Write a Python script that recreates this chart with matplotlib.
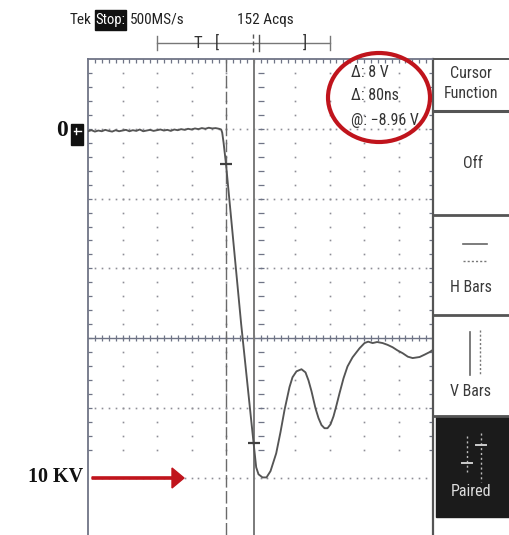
import numpy as np
import matplotlib
matplotlib.use("Agg")
import matplotlib.pyplot as plt
from matplotlib import font_manager as fm
from matplotlib.patches import Ellipse, Rectangle, FancyArrow
from matplotlib.lines import Line2D
from matplotlib.collections import LineCollection

# ---------------- acquisition settings ----------------
T_DIV = 100.0          # ns per division
V_DIV = 2.0            # V per division
V_CENTER = -5.95       # level of the centre graticule line
T_LEFT, T_RIGHT = -500.0, 500.0
V_TOP = V_CENTER + 4 * V_DIV
V_BOTTOM = V_CENTER - 2.82 * V_DIV

# ---------------- waveform (ns, V) ----------------
baseline_t = np.arange(-500, -115, 10)
baseline_v = [-0.02, 0.01, -0.03, 0.00, -0.02, 0.02, -0.01, -0.03, 0.01, -0.02,
              0.00, 0.02, -0.02, 0.01, -0.01, 0.03, -0.02, 0.00, 0.02, -0.01,
              0.01, 0.03, 0.00, 0.02, -0.01, 0.03, 0.01, 0.04, 0.02, 0.05,
              0.03, 0.06, 0.04, 0.07, 0.05, 0.08, 0.06, 0.07, 0.05]
edge_t = [-114, -111, -107, -100, -56, -20, -12.5, -5.8, 5.8, 17.4, 29, 45.5,
          58, 69.6, 84.1, 92.8, 104.3, 118.8, 130.4, 139.1, 147.8, 159.4, 168.1,
          176.8, 185.5, 194.2, 202.9, 211.6, 220.3, 229, 240.6, 252.2, 266.7,
          287, 301.5, 312, 325, 338, 354, 368, 383, 397, 412, 427, 441, 461,
          476, 490, 499]
edge_v = [0.03, -0.06, -0.35, -0.96, -5.55, -8.96, -9.65, -9.85, -9.94, -9.94,
          -9.76, -9.25, -8.64, -8.01, -7.35, -7.07, -6.90, -6.84, -6.93, -7.16,
          -7.47, -7.96, -8.24, -8.44, -8.53, -8.53, -8.42, -8.19, -7.87, -7.53,
          -7.10, -6.76, -6.50, -6.24, -6.09, -6.05, -6.09, -6.06, -6.09, -6.14,
          -6.21, -6.30, -6.38, -6.48, -6.52, -6.49, -6.42, -6.35, -6.29]

cursor_t = [-100, -20]
cursor_v = [-0.96, -8.96]

readout_lines = ["Δ: 8 V", "Δ: 80ns", "@: \u22128.96 V"]
header_rate = "500MS/s"
header_acqs = "152 Acqs"
menu_title = ["Cursor", "Function"]
menu_items = ["Off", "H Bars", "V Bars", "Paired"]
ground_label = "0"
level_label = "10 KV"

# ---------------- fonts ----------------
def narrow_font():
    wanted = ["Liberation Sans Narrow", "DejaVu Sans Condensed",
              "Roboto Condensed", "Open Sans Condensed"]
    for name in wanted:
        for f in fm.fontManager.ttflist:
            if f.name == name and f.style == "normal" and f.weight in (400, "normal", "regular"):
                return fm.FontProperties(fname=f.fname), 1.0
    for f in fm.fontManager.ttflist:
        if f.name == "DejaVu Sans" and f.stretch in ("condensed", "semi-condensed") \
                and f.style == "normal" and f.weight in (400, "normal"):
            return fm.FontProperties(fname=f.fname), 0.9
    return fm.FontProperties(family="DejaVu Sans"), 0.78

NARROW, NSCALE = narrow_font()
SERIF = fm.FontProperties(family="Liberation Serif", weight="bold")

def nfont(size):
    p = NARROW.copy()
    p.set_size(size * NSCALE)
    return p

# ---------------- figure ----------------
W, H = 510, 535
fig = plt.figure(figsize=(W / 100, H / 100), dpi=100)
fig.patch.set_facecolor("white")

def fx(x):
    return x / W

def fy(y):
    return 1 - y / H

ax = fig.add_axes([fx(88), 0, fx(433) - fx(88), fy(59)])
ax.set_xlim(T_LEFT, T_RIGHT)
ax.set_ylim(V_BOTTOM, V_TOP)
ax.axis("off")

GRID = "#8e8e96"
AXC = "#6f7486"
px_v = (V_TOP - V_BOTTOM) / (535 - 59)     # volts per pixel
px_t = (T_RIGHT - T_LEFT) / (433 - 88)     # ns per pixel

minor_v = V_CENTER + 0.4 * np.arange(-8, 21)
minor_v = minor_v[(minor_v > V_BOTTOM) & (minor_v < V_TOP)]
minor_t = np.arange(T_LEFT + 20, T_RIGHT, 20)

# dotted graticule
for t in np.arange(T_LEFT + T_DIV, T_RIGHT, T_DIV):
    if abs(t) < 1e-6:
        continue
    ax.plot(np.full(len(minor_v), t), minor_v, ls="none", marker="s", ms=1.2,
            mew=0, color=GRID)
for k in (-2, -1, 1, 2, 3):
    lvl = V_CENTER + k * V_DIV
    ax.plot(minor_t, np.full(len(minor_t), lvl), ls="none", marker="s", ms=1.2,
            mew=0, color=GRID)

segs = []
# centre horizontal axis with ticks
ax.axhline(V_CENTER, color=AXC, lw=1.0)
for t in minor_t:
    segs.append([(t, V_CENTER - 3 * px_v), (t, V_CENTER + 3 * px_v)])
# centre vertical axis ticks
for v in minor_v:
    segs.append([(-3 * px_t, v), (3 * px_t, v)])
# border ticks
for v in minor_v:
    segs.append([(T_LEFT, v), (T_LEFT + 4 * px_t, v)])
    segs.append([(T_RIGHT, v), (T_RIGHT - 4 * px_t, v)])
for t in minor_t:
    segs.append([(t, V_TOP), (t, V_TOP - 4 * px_v)])
ax.add_collection(LineCollection(segs, colors=AXC, linewidths=0.9))

# borders
ax.plot([T_LEFT, T_LEFT], [V_BOTTOM, V_TOP], color=AXC, lw=1.3, clip_on=False)
ax.plot([T_RIGHT, T_RIGHT], [V_BOTTOM, V_TOP], color="#555", lw=1.6, clip_on=False)
ax.plot([T_LEFT, T_RIGHT], [V_TOP, V_TOP], color=AXC, lw=1.3, clip_on=False)

# paired cursors
ax.axvline(cursor_t[0], color="#6a6a6a", lw=1.0, ls=(0, (9, 2.5)))
ax.axvline(cursor_t[1], color="#7a7a7a", lw=1.4)

# waveform
t_all = np.concatenate([baseline_t, edge_t])
v_all = np.concatenate([baseline_v, edge_v])
ax.plot(t_all, v_all, color="#555555", lw=1.35, solid_joinstyle="round")
ax.plot(cursor_t, cursor_v, ls="none", marker="_", ms=9, mew=1.6, color="#404040")

# ---------------- ground marker and level labels ----------------
fig.add_artist(Rectangle((fx(71), fy(145)), fx(83) - fx(71), fy(124) - fy(145),
                         transform=fig.transFigure, color="#111"))
fig.add_artist(Line2D([fx(74), fx(81)], [fy(131), fy(131)], color="white", lw=1.0,
                      transform=fig.transFigure))
fig.add_artist(Line2D([fx(76), fx(76)], [fy(128), fy(134)], color="white", lw=1.0,
                      transform=fig.transFigure))
fig.text(fx(62), fy(131), ground_label, fontproperties=SERIF, fontsize=17,
         ha="center", va="center", color="#111")
fig.text(fx(83), fy(477), level_label, fontproperties=SERIF, fontsize=14.5,
         ha="right", va="center", color="#111")
fig.add_artist(FancyArrow(fx(92), fy(478), fx(184) - fx(92), 0,
                          width=2.2 / H, head_width=20 / H, head_length=12 / W,
                          length_includes_head=True, color="#c0141c",
                          transform=fig.transFigure))

# ---------------- readout with red circle ----------------
fig.add_artist(Ellipse((fx(379), fy(97.5)), 102 / W, 89 / H, fill=False,
                       edgecolor="#c0141c", lw=3.0, transform=fig.transFigure))
for i, line in enumerate(readout_lines):
    fig.text(fx(351), fy(72 + 24 * i), line, fontproperties=nfont(11.5),
             ha="left", va="center", color="#333")

# ---------------- header ----------------
hb = nfont(11)
hb.set_weight("bold")
fig.text(fx(70), fy(20), "Tek", fontproperties=hb, ha="left", va="center", color="#222")
fig.add_artist(Rectangle((fx(95), fy(30)), fx(126) - fx(95), fy(10) - fy(30),
                         transform=fig.transFigure, color="#111"))
fig.text(fx(110.5), fy(20), "Stop:", fontproperties=nfont(10.5), ha="center",
         va="center", color="white")
fig.text(fx(130), fy(20), header_rate, fontproperties=nfont(11), ha="left",
         va="center", color="#222")
fig.text(fx(237), fy(20), header_acqs, fontproperties=nfont(11), ha="left",
         va="center", color="#222")

# record position bar
bar_c = "#777"
fig.add_artist(Line2D([fx(157), fx(330)], [fy(43), fy(43)], color=bar_c, lw=1.0,
                      transform=fig.transFigure))
for xb in (157, 330):
    fig.add_artist(Line2D([fx(xb), fx(xb)], [fy(36), fy(50)], color=bar_c, lw=1.0,
                          transform=fig.transFigure))
fig.add_artist(Line2D([fx(253), fx(253)], [fy(34), fy(52)], color="#555", lw=1.0,
                      ls=(0, (3, 2)), transform=fig.transFigure))
fig.add_artist(Line2D([fx(259), fx(259)], [fy(35), fy(51)], color="#555", lw=1.0,
                      transform=fig.transFigure))
for xb, s in ((198, "T"), (217, "["), (305, "]")):
    fig.text(fx(xb), fy(43), s, fontproperties=nfont(12), ha="center", va="center",
             color="#333")

# ---------------- side menu ----------------
mc = "#555"
for yl, lw in ((59, 1.4), (111, 2.2), (215, 2.0), (315, 2.0), (416, 2.0)):
    fig.add_artist(Line2D([fx(434), fx(510)], [fy(yl), fy(yl)], color=mc, lw=lw,
                          transform=fig.transFigure))
fig.text(fx(471), fy(73), menu_title[0], fontproperties=nfont(11.5), ha="center",
         va="center", color="#3a3a3a")
fig.text(fx(471), fy(93), menu_title[1], fontproperties=nfont(11.5), ha="center",
         va="center", color="#3a3a3a")
fig.text(fx(473), fy(163), menu_items[0], fontproperties=nfont(11.5), ha="center",
         va="center", color="#3a3a3a")

# H Bars
fig.add_artist(Line2D([fx(463), fx(487)], [fy(244), fy(244)], color="#666", lw=1.2,
                      transform=fig.transFigure))
fig.add_artist(Line2D([fx(463), fx(487)], [fy(261), fy(261)], color="#777", lw=1.0,
                      ls=(0, (1.5, 1.5)), transform=fig.transFigure))
fig.text(fx(471), fy(287), menu_items[1], fontproperties=nfont(11.5), ha="center",
         va="center", color="#3a3a3a")

# V Bars
fig.add_artist(Line2D([fx(470), fx(470)], [fy(332), fy(375)], color="#666", lw=1.2,
                      transform=fig.transFigure))
fig.add_artist(Line2D([fx(480), fx(480)], [fy(330), fy(375)], color="#777", lw=1.0,
                      ls=(0, (1.5, 1.5)), transform=fig.transFigure))
fig.text(fx(471), fy(391), menu_items[2], fontproperties=nfont(11.5), ha="center",
         va="center", color="#3a3a3a")

# Paired (selected)
fig.add_artist(Rectangle((fx(436), fy(517)), fx(510) - fx(436), fy(416) - fy(517),
                         transform=fig.transFigure, color="#1b1b1b"))
fig.add_artist(Line2D([fx(467), fx(467)], [fy(436), fy(472)], color="#bbb", lw=1.0,
                      ls=(0, (1.5, 2)), transform=fig.transFigure))
fig.add_artist(Line2D([fx(462), fx(472)], [fy(463), fy(463)], color="#ccc", lw=1.4,
                      transform=fig.transFigure))
fig.add_artist(Line2D([fx(481), fx(481)], [fy(433), fy(482)], color="#bbb", lw=1.0,
                      ls=(0, (1.5, 2)), transform=fig.transFigure))
fig.add_artist(Line2D([fx(476), fx(486)], [fy(445), fy(445)], color="#ccc", lw=1.4,
                      transform=fig.transFigure))
fig.text(fx(471), fy(491), menu_items[3], fontproperties=nfont(11.5), ha="center",
         va="center", color="#dddddd")

fig.savefig("out.png", dpi=100, facecolor="white")
